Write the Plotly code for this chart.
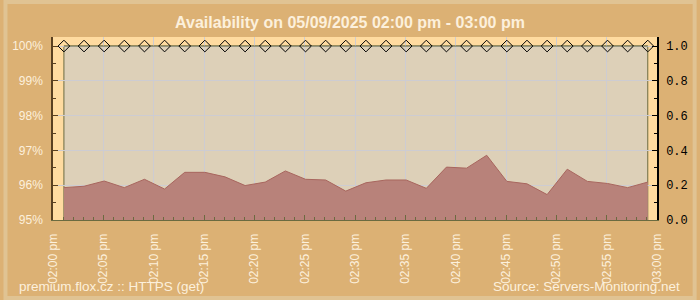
import plotly.graph_objects as go

# ---- data ----
times = [
    "2025-05-09 14:01:05", "2025-05-09 14:03:05", "2025-05-09 14:05:05", "2025-05-09 14:07:05",
    "2025-05-09 14:09:05", "2025-05-09 14:11:05", "2025-05-09 14:13:05", "2025-05-09 14:15:05",
    "2025-05-09 14:17:05", "2025-05-09 14:19:05", "2025-05-09 14:21:05", "2025-05-09 14:23:05",
    "2025-05-09 14:25:05", "2025-05-09 14:27:05", "2025-05-09 14:29:05", "2025-05-09 14:31:05",
    "2025-05-09 14:33:05", "2025-05-09 14:35:05", "2025-05-09 14:37:05", "2025-05-09 14:39:05",
    "2025-05-09 14:41:05", "2025-05-09 14:43:05", "2025-05-09 14:45:05", "2025-05-09 14:47:05",
    "2025-05-09 14:49:05", "2025-05-09 14:51:05", "2025-05-09 14:53:05", "2025-05-09 14:55:05",
    "2025-05-09 14:57:05", "2025-05-09 14:59:05",
]
response_pct = [
    95.93, 95.97, 96.12, 95.93, 96.17, 95.89, 96.37, 96.37, 96.24, 95.99,
    96.09, 96.41, 96.17, 96.15, 95.83, 96.07, 96.15, 96.15, 95.91, 96.52,
    96.49, 96.86, 96.11, 96.04, 95.73, 96.46, 96.11, 96.05, 95.93, 96.09,
]
availability = [1.0] * 30

tick_times = [
    "2025-05-09 14:00", "2025-05-09 14:05", "2025-05-09 14:10", "2025-05-09 14:15",
    "2025-05-09 14:20", "2025-05-09 14:25", "2025-05-09 14:30", "2025-05-09 14:35",
    "2025-05-09 14:40", "2025-05-09 14:45", "2025-05-09 14:50", "2025-05-09 14:55",
    "2025-05-09 15:00",
]
tick_labels = [
    "02:00 pm", "02:05 pm", "02:10 pm", "02:15 pm", "02:20 pm", "02:25 pm", "02:30 pm",
    "02:35 pm", "02:40 pm", "02:45 pm", "02:50 pm", "02:55 pm", "03:00 pm",
]
left_ticks = [95, 96, 97, 98, 99, 100]
left_labels = ["95%", "96%", "97%", "98%", "99%", "100%"]
right_ticks = [0.0, 0.2, 0.4, 0.6, 0.8, 1.0]
right_labels = ["0.0", "0.2", "0.4", "0.6", "0.8", "1.0"]

title_text = "Availability on 05/09/2025 02:00 pm - 03:00 pm"
footer_left = "premium.flox.cz :: HTTPS (get)"
footer_right = "Source: Servers-Monitoring.net"

# ---- style ----
BG = "#dcb174"
BAND = "#ffdba0"
INNER = "#ddd0b8"
OLIVE = "#6b6b40"
CREAM = "#fcf0dc"
GRID = "#cdccd2"
FONT = "Liberation Sans, Arial, sans-serif"

fig = go.Figure()

fig.add_trace(go.Scatter(
    x=times, y=response_pct, mode="lines", fill="tozeroy",
    fillcolor="#b8827a", line=dict(color="#a8665e", width=1),
    hoverinfo="skip", showlegend=False, yaxis="y",
))
fig.add_trace(go.Scatter(
    x=times, y=availability, mode="lines+markers", yaxis="y2",
    line=dict(color=OLIVE, width=1),
    marker=dict(symbol="diamond", size=9, color="rgba(0,0,0,0)",
                line=dict(color="black", width=1)),
    cliponaxis=False, showlegend=False,
))

# inner plot rectangle (spans the data)
fig.add_shape(type="rect", xref="x", yref="y", x0=times[0], x1=times[-1],
              y0=95, y1=100, fillcolor=INNER, line=dict(color=OLIVE, width=1),
              layer="below")
# outer frame
fig.add_shape(type="rect", xref="paper", yref="paper",
              x0=-48 / 610, x1=648 / 610, y0=(220 - 298) / 183, y1=(220 - 2) / 183,
              line=dict(color="#e0c393", width=4), fillcolor="rgba(0,0,0,0)",
              layer="below")

fig.update_layout(
    width=700, height=300,
    margin=dict(l=50, r=40, t=37, b=80),
    paper_bgcolor=BG, plot_bgcolor=BAND,
    font=dict(family=FONT, size=12, color=CREAM),
    title=dict(text="<b>" + title_text + "</b>", x=0.5, xanchor="center",
               y=1 - 22 / 300, yanchor="middle", yref="container",
               font=dict(size=16, color=CREAM, family=FONT)),
    xaxis=dict(
        type="date", range=[tick_times[0], tick_times[-1]],
        tickmode="array", tickvals=tick_times, ticktext=tick_labels,
        tickangle=-90, tickfont=dict(size=12, color=CREAM),
        ticks="inside", ticklen=5, tickcolor=OLIVE,
        showgrid=True, gridcolor=GRID, gridwidth=1,
        showline=True, linecolor=OLIVE, linewidth=1,
        ticklabelstandoff=8,
        minor=dict(tickmode="linear", tick0=tick_times[0], dtick=60000,
                   ticks="inside", ticklen=3, tickcolor=OLIVE, showgrid=False),
        zeroline=False,
    ),
    yaxis=dict(
        range=[95, 100.26], tickmode="array", tickvals=left_ticks, ticktext=left_labels,
        tickfont=dict(size=12, color=CREAM),
        ticks="inside", ticklen=5, tickcolor="#5a4020",
        showgrid=True, gridcolor=GRID, gridwidth=1,
        showline=True, linecolor="#5a4020", linewidth=1.5,
        ticklabelstandoff=6,
        minor=dict(tickmode="linear", tick0=95, dtick=0.5, ticks="inside",
                   ticklen=3, tickcolor="#5a4020", showgrid=False),
        zeroline=False,
    ),
    yaxis2=dict(
        overlaying="y", side="right", range=[0, 1.052],
        tickmode="array", tickvals=right_ticks, ticktext=right_labels,
        tickfont=dict(size=12, color="black", family="Liberation Mono, Courier New, monospace"),
        ticks="inside", ticklen=5, tickcolor="black",
        showgrid=False, showline=True, linecolor="black", linewidth=1.5,
        ticklabelstandoff=5,
        minor=dict(tickmode="linear", tick0=0, dtick=0.1, ticks="inside",
                   ticklen=3, tickcolor="black"),
        zeroline=False,
    ),
    annotations=[
        dict(text=footer_left, xref="paper", yref="paper",
             x=(14 - 50) / 610, y=(220 - 286) / 183, xanchor="left", yanchor="middle",
             showarrow=False, font=dict(size=13.5, color=CREAM)),
        dict(text=footer_right, xref="paper", yref="paper",
             x=(685 - 50) / 610, y=(220 - 286) / 183, xanchor="right", yanchor="middle",
             showarrow=False, font=dict(size=13.5, color=CREAM)),
    ],
)

fig.write_html("out.html")
